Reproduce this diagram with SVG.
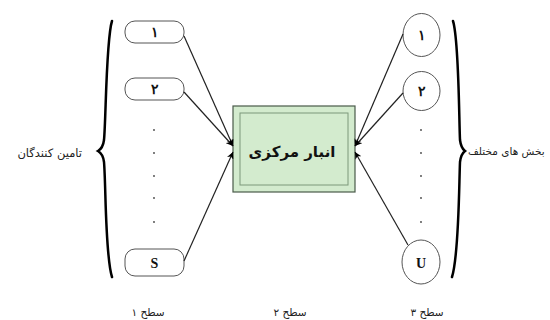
<svg xmlns="http://www.w3.org/2000/svg" width="550" height="320" viewBox="0 0 550 320">
<defs>
<marker id="ah" viewBox="0 0 10 10" refX="10" refY="5" markerWidth="7" markerHeight="7" orient="auto" markerUnits="userSpaceOnUse">
<path d="M0,0 L10,5 L0,10 L3,5 Z" fill="#000"/>
</marker>
<style>
.bx{fill:#fff;stroke:#555;stroke-width:1}
.t{font-family:"Liberation Serif","DejaVu Serif",serif;font-size:14px;font-weight:bold;text-anchor:middle;fill:#111}
.fa{font-family:"DejaVu Sans",sans-serif;font-size:10.5px;fill:#222}
.side{font-size:11.5px}
.dot{fill:#444}
.br{fill:none;stroke:#000;stroke-width:2.5;stroke-linecap:round}
.cn{fill:none;stroke:#222;stroke-width:1.2}
</style>
</defs>
<rect width="550" height="320" fill="#fff"/>
<g id="supplier-1"><rect class="bx" x="125" y="21" width="59" height="22" rx="10"/><text class="t" x="154.5" y="37">۱</text></g>
<g id="supplier-2"><rect class="bx" x="125" y="78" width="59" height="22" rx="10"/><text class="t" x="154.5" y="94">۲</text></g>
<g id="supplier-s"><rect class="bx" x="125" y="249" width="59" height="27" rx="10"/><text class="t" x="154.5" y="268">S</text></g>
<g id="left-dots"><circle class="dot" cx="154" cy="130" r="0.9"/><circle class="dot" cx="154" cy="153" r="0.9"/><circle class="dot" cx="154" cy="176" r="0.9"/><circle class="dot" cx="154" cy="198" r="0.9"/><circle class="dot" cx="154" cy="222" r="0.9"/></g>
<g id="left-brace"><path class="br" d="M112,21 C106,40 106,120 104,140 Q103,148 98,151 Q103,154 104,162 C106,185 105,255 112,277"/><text class="fa side" x="82" y="157" text-anchor="end">تامین کنندگان</text></g>
<g id="center"><rect x="233" y="106" width="122" height="86" fill="#d3ebce" stroke="#4a5a4a" stroke-width="1.2"/><rect x="240" y="113" width="108" height="72" fill="none" stroke="#7c987a" stroke-width="1"/><text x="292" y="157" font-family="DejaVu Sans,sans-serif" font-size="15" font-weight="bold" text-anchor="middle" fill="#111">انبار مرکزی</text></g>
<g id="section-1"><ellipse class="bx" cx="421.5" cy="35" rx="18.5" ry="21.5"/><text class="t" x="421.5" y="40">۱</text></g>
<g id="section-2"><ellipse class="bx" cx="421.5" cy="91" rx="18.5" ry="19.5"/><text class="t" x="421.5" y="96">۲</text></g>
<g id="section-u"><ellipse class="bx" cx="421" cy="262" rx="19" ry="22"/><text class="t" x="421" y="268">U</text></g>
<g id="right-dots"><circle class="dot" cx="421" cy="130" r="0.9"/><circle class="dot" cx="421" cy="153" r="0.9"/><circle class="dot" cx="421" cy="176" r="0.9"/><circle class="dot" cx="421" cy="198" r="0.9"/><circle class="dot" cx="421" cy="222" r="0.9"/></g>
<g id="right-brace"><path class="br" d="M453,21 C459,40 459,120 460,140 Q461,148 465,151 Q461,154 460,162 C459,185 459,255 452,277"/><text class="fa" x="468" y="155" text-anchor="start">بخش های مختلف</text></g>
<g id="connectors">
<line class="cn" x1="184" y1="36" x2="233" y2="146" marker-end="url(#ah)"/>
<line class="cn" x1="184" y1="92" x2="233" y2="146" marker-end="url(#ah)"/>
<line class="cn" x1="184" y1="261" x2="233" y2="152" marker-end="url(#ah)"/>
<line class="cn" x1="403" y1="34" x2="355" y2="146" marker-end="url(#ah)"/>
<line class="cn" x1="403" y1="93" x2="355" y2="146" marker-end="url(#ah)"/>
<line class="cn" x1="408" y1="245" x2="355" y2="152" marker-end="url(#ah)"/>
</g>
<g id="levels">
<text class="fa" x="148" y="316" text-anchor="middle">سطح ۱</text>
<text class="fa" x="290" y="316" text-anchor="middle">سطح ۲</text>
<text class="fa" x="427" y="316" text-anchor="middle">سطح ۳</text>
</g>
</svg>
